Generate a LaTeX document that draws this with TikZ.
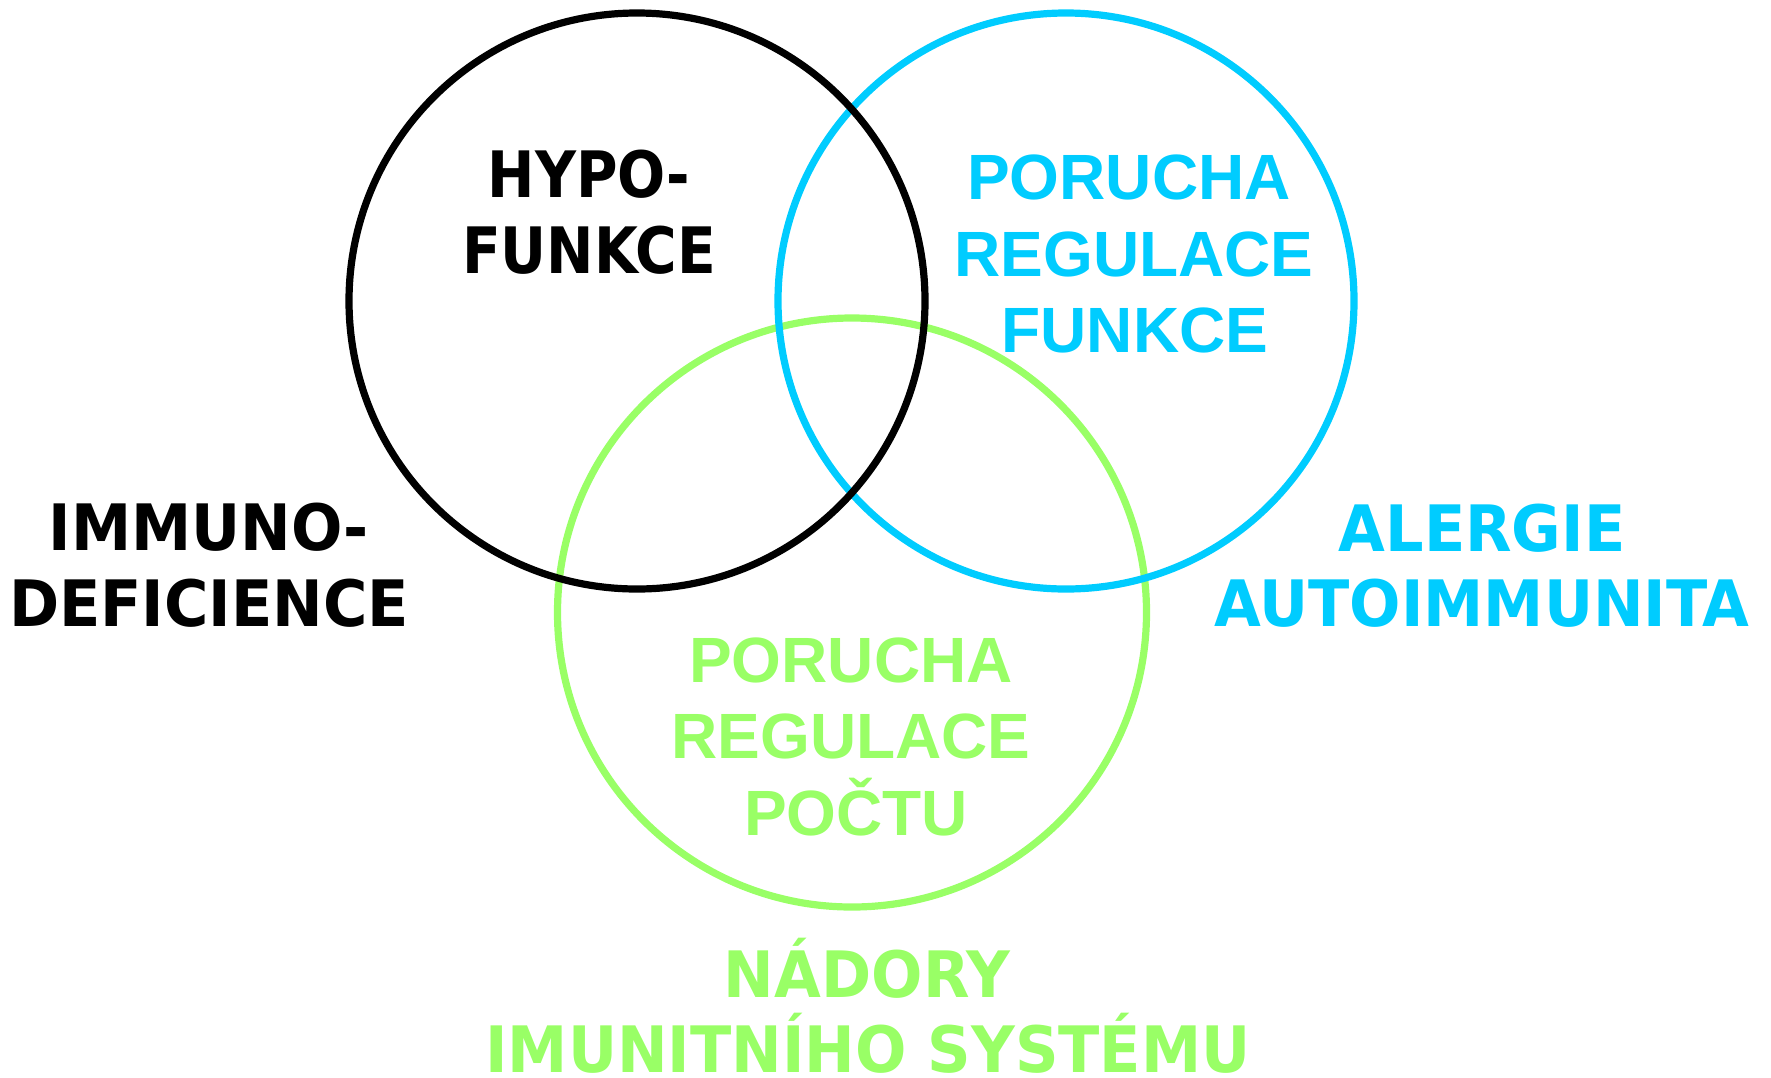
\documentclass[tikz,border=0pt]{standalone}
\usepackage{fontspec}
\newfontfamily\innerfont{Liberation Sans}
\newfontfamily\outerfont{DejaVu Sans}[FakeStretch=0.945]
\newfontfamily\hypofont{DejaVu Sans}[FakeStretch=0.885]
\definecolor{modra}{RGB}{0,204,255}
\definecolor{zelena}{RGB}{153,255,102}
\begin{document}
\begin{tikzpicture}[x=0.5pt,y=-0.5pt, line join=round, line cap=round,
	kruh/.style={line width=3.6pt},
	vnitrni/.style={anchor=base, inner sep=0pt, font=\innerfont\bfseries\fontsize{32pt}{38pt}\selectfont},
	vnejsi/.style={anchor=base, inner sep=0pt, font=\outerfont\bfseries\fontsize{32pt}{38pt}\selectfont},
	hypo/.style={anchor=base, inner sep=0pt, font=\hypofont\bfseries\fontsize{32pt}{38pt}\selectfont}]
	\def\r{288} % polomer
	\useasboundingbox (0,0) rectangle (1771,1077);
	%\draw[color=gray!50,dashed] (0,0) grid[step=100] (1771,1077);
	\draw[kruh,color=zelena] (852,612.5) circle[radius=294.5];
	\draw[kruh,color=modra] (1066,301) circle[radius=\r];
	\draw[kruh,color=black] (637,301) circle[radius=\r];
	
	\node (hypoA) at (589,197) [hypo]{HYPO-};
	\node (hypoB) at (589,273) [hypo]{FUNKCE};
	
	\node (funA) at (1129,199) [vnitrni,color=modra]{PORUCHA};
	\node (funB) at (1134,276) [vnitrni,color=modra]{REGULACE};
	\node (funC) at (1135,352) [vnitrni,color=modra]{FUNKCE};
	
	\node (pocA) at (851,682) [vnitrni,color=zelena]{PORUCHA};
	\node (pocB) at (851,758) [vnitrni,color=zelena]{REGULACE};
	\node (pocC) at (856,835) [vnitrni,color=zelena]{POČTU};
	
	\node (imA) at (209,550) [vnejsi]{IMMUNO-};
	\node (imB) at (209,626) [vnejsi]{DEFICIENCE};
	
	\node (alA) at (1482,551) [vnejsi,color=modra]{ALERGIE};
	\node (alB) at (1482,626) [vnejsi,color=modra]{AUTOIMMUNITA};
	
	\node (naA) at (867,997) [vnejsi,color=zelena]{NÁDORY};
	\node (naB) at (868,1072) [vnejsi,color=zelena]{IMUNITNÍHO SYSTÉMU};
\end{tikzpicture}
\end{document}
